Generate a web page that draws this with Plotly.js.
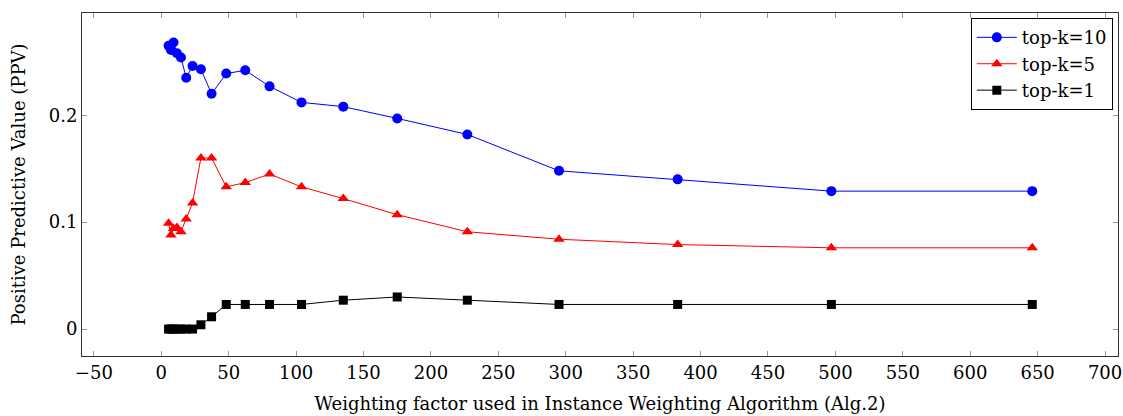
<!DOCTYPE html>
<html>
<head>
<meta charset="utf-8">
<script src="https://cdn.plot.ly/plotly-3.0.1.min.js"></script>
<style>html,body{margin:0;padding:0;background:#fff;}#chart{width:1123px;height:416px;}</style>
</head>
<body>
<div id="chart"></div>
<script>
const weights = [5.4, 7.2, 9.1, 11.6, 14.6, 18.5, 23.2, 29.4, 37.3, 48.2, 62.3, 80.3, 104, 135, 175, 227, 295, 383, 497, 646];
const ppvTop10 = [0.265, 0.261, 0.268, 0.258, 0.254, 0.235, 0.246, 0.243, 0.220, 0.239, 0.242, 0.227, 0.212, 0.208, 0.197, 0.182, 0.148, 0.140, 0.129, 0.129];
const ppvTop5 = [0.099, 0.088, 0.094, 0.095, 0.091, 0.103, 0.118, 0.160, 0.160, 0.133, 0.137, 0.145, 0.133, 0.122, 0.107, 0.091, 0.084, 0.079, 0.076, 0.076];
const ppvTop1 = [0, 0, 0, 0, 0, 0, 0, 0.004, 0.0115, 0.023, 0.023, 0.023, 0.023, 0.027, 0.030, 0.027, 0.023, 0.023, 0.023, 0.023];
const seriesNames = ["top-k=10", "top-k=5", "top-k=1"];
const xTicks = [-50, 0, 50, 100, 150, 200, 250, 300, 350, 400, 450, 500, 550, 600, 650, 700];
const yTicks = [0, 0.1, 0.2];

const FONT = "DejaVu Serif, Liberation Serif, serif";
const FS = 18;
const traces = [
  {x: weights, y: ppvTop10, name: seriesNames[0], mode: "lines+markers",
   line: {color: "#0000ff", width: 1}, marker: {symbol: "circle", size: 10, color: "#0000ff"}},
  {x: weights, y: ppvTop5, name: seriesNames[1], mode: "lines+markers",
   line: {color: "#ff0000", width: 1}, marker: {symbol: "triangle-up", size: 10, color: "#ff0000"}},
  {x: weights, y: ppvTop1, name: seriesNames[2], mode: "lines+markers",
   line: {color: "#000000", width: 1}, marker: {symbol: "square", size: 9, color: "#000000"}}
];
const axisCommon = {
  showline: true, linecolor: "#333", linewidth: 1, mirror: "allticks",
  ticks: "inside", ticklen: 5, tickcolor: "#999", tickwidth: 1,
  showgrid: false, zeroline: false,
  tickfont: {family: FONT, size: FS, color: "#000"}
};
const layout = {
  width: 1123, height: 416,
  margin: {l: 82, r: 5, t: 13, b: 60},
  paper_bgcolor: "#fff", plot_bgcolor: "#fff",
  font: {family: FONT, color: "#000"},
  showlegend: true,
  legend: {x: 0.995, y: 0.985, xanchor: "right", yanchor: "top",
    bordercolor: "#000", borderwidth: 1, bgcolor: "#fff",
    font: {family: FONT, size: FS, color: "#000"}, tracegroupgap: 0, itemwidth: 40},
  xaxis: Object.assign({}, axisCommon, {
    range: [-58.8, 709.6], tickmode: "array", tickvals: xTicks,
    title: {text: "Weighting factor used in Instance Weighting Algorithm (Alg.2)", font: {family: FONT, size: FS, color: "#000"}, standoff: 15}
  }),
  yaxis: Object.assign({}, axisCommon, {
    range: [-0.0252, 0.2956], tickmode: "array", tickvals: yTicks, ticktext: ["0", "0.1", "0.2"],
    title: {text: "Positive Predictive Value (PPV)", font: {family: FONT, size: FS, color: "#000"}, standoff: 18}
  })
};
Plotly.newPlot("chart", traces, layout, {displayModeBar: false, staticPlot: true});
</script>
</body>
</html>
